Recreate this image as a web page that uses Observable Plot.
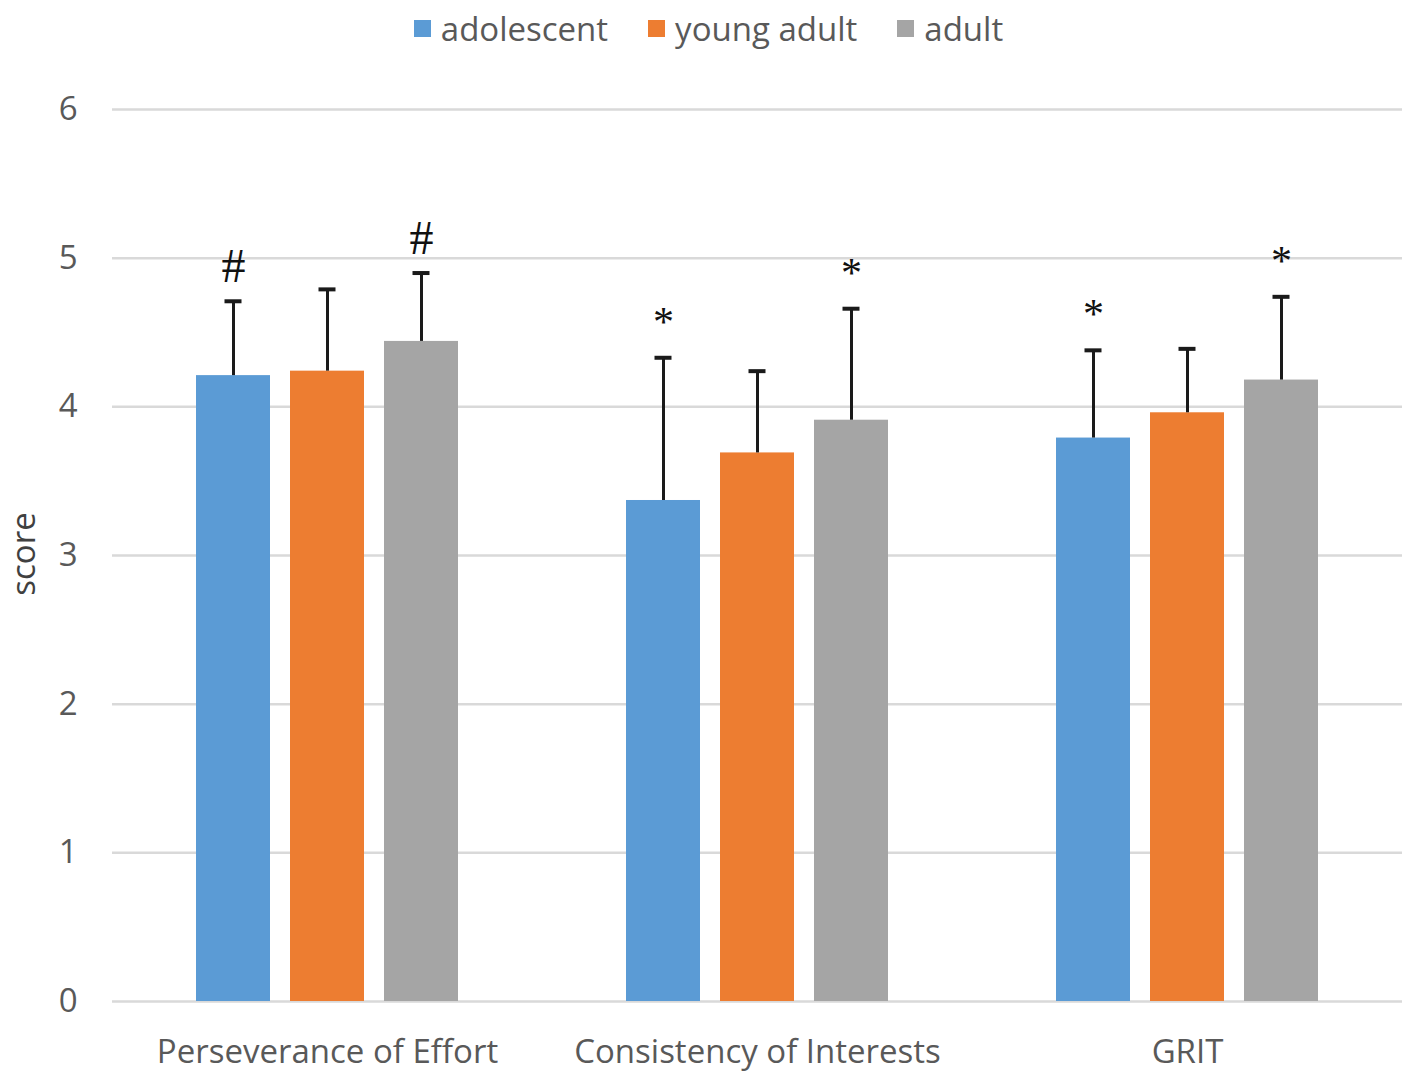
<!DOCTYPE html>
<html>
<head>
<meta charset="utf-8">
<script src="https://cdn.jsdelivr.net/npm/d3@7"></script>
<script src="https://cdn.jsdelivr.net/npm/@observablehq/plot@0.6"></script>
<style>
  body { margin: 0; background: #fff; font-family: "Open Sans", sans-serif; }
  #legend { height: 56px; display: flex; justify-content: center; align-items: center; gap: 40px; color: #595959; font-size: 33px; }
  #legend .item { display: flex; align-items: center; gap: 10px; }
  #legend .sw { width: 17px; height: 17px; display: inline-block; }
  #wrap { position: relative; }
  #ylabel { position: absolute; left: 22px; top: 498px; transform: translate(-50%, -50%) rotate(-90deg); font-size: 33px; color: #404040; white-space: nowrap; }
</style>
</head>
<body>
<div id="legend"></div>
<div id="wrap">
  <div id="chart"></div>
  <div id="ylabel">score</div>
</div>
<script>
const categories = ["Perseverance of Effort", "Consistency of Interests", "GRIT"];
const groups = ["adolescent", "young adult", "adult"];
const colors = ["#5B9BD5", "#ED7D31", "#A5A5A5"];
const yTicks = [0, 1, 2, 3, 4, 5, 6];

const adolescent = [4.21, 3.37, 3.79];
const youngAdult = [4.24, 3.69, 3.96];
const adult = [4.44, 3.91, 4.18];

const adolescentErr = [0.50, 0.96, 0.59];
const youngAdultErr = [0.55, 0.55, 0.43];
const adultErr = [0.46, 0.75, 0.56];

const adolescentSig = ["#", "*", "*"];
const youngAdultSig = ["", "", ""];
const adultSig = ["#", "*", "*"];

const series = [
  [adolescent, adolescentErr, adolescentSig],
  [youngAdult, youngAdultErr, youngAdultSig],
  [adult, adultErr, adultSig]
];
const data = [];
categories.forEach((c, i) => {
  groups.forEach((g, j) => {
    const [v, e, s] = series[j];
    data.push({category: c, group: g, value: v[i], top: v[i] + e[i], sig: s[i]});
  });
});

// legend
const legend = document.getElementById("legend");
groups.forEach((g, j) => {
  const it = document.createElement("div");
  it.className = "item";
  const sw = document.createElement("span");
  sw.className = "sw";
  sw.style.background = colors[j];
  const t = document.createElement("span");
  t.textContent = g;
  it.appendChild(sw); it.appendChild(t);
  legend.appendChild(it);
});

const chart = Plot.plot({
  width: 1417,
  height: 1025,
  marginTop: 53,
  marginBottom: 80,
  marginLeft: 112,
  marginRight: 15,
  style: {fontFamily: "Open Sans, sans-serif", fontSize: "33px", color: "#595959", background: "#fff"},
  fx: {domain: categories, padding: 0, label: null, axis: null},
  x: {domain: groups, paddingInner: 0.21, paddingOuter: 0.87, axis: null},
  y: {domain: [0, 6], ticks: yTicks, label: null, axis: null},
  color: {domain: groups, range: colors},
  marks: [
    Plot.ruleY(yTicks, {stroke: "#d9d9d9", strokeWidth: 2.5}),
    Plot.axisY({ticks: yTicks, tickSize: 0, tickPadding: 35, label: null, tickFormat: d3.format("d"), fontSize: 33}),
    Plot.axisFx({anchor: "bottom", tickSize: 0, tickPadding: 38, label: null, fontSize: 33}),
    Plot.barY(data, {fx: "category", x: "group", y: "value", fill: "group"}),
    Plot.ruleX(data, {fx: "category", x: "group", y1: "value", y2: "top", stroke: "#1a1a1a", strokeWidth: 3}),
    Plot.tickY(data, {fx: "category", x: "group", y: "top", stroke: "#1a1a1a", strokeWidth: 4, insetLeft: 28.5, insetRight: 28.5}),
    Plot.text(data.filter(d => d.sig === "#"), {fx: "category", x: "group", y: "top", text: "sig", dy: -19, lineAnchor: "bottom", fontFamily: "Liberation Serif, serif", fontSize: 48, fill: "#111"}),
    Plot.text(data.filter(d => d.sig === "*"), {fx: "category", x: "group", y: "top", text: "sig", dy: -22, lineAnchor: "bottom", fontFamily: "Liberation Serif, serif", fontSize: 42, fill: "#111"})
  ]
});
document.getElementById("chart").appendChild(chart);
</script>
</body>
</html>
